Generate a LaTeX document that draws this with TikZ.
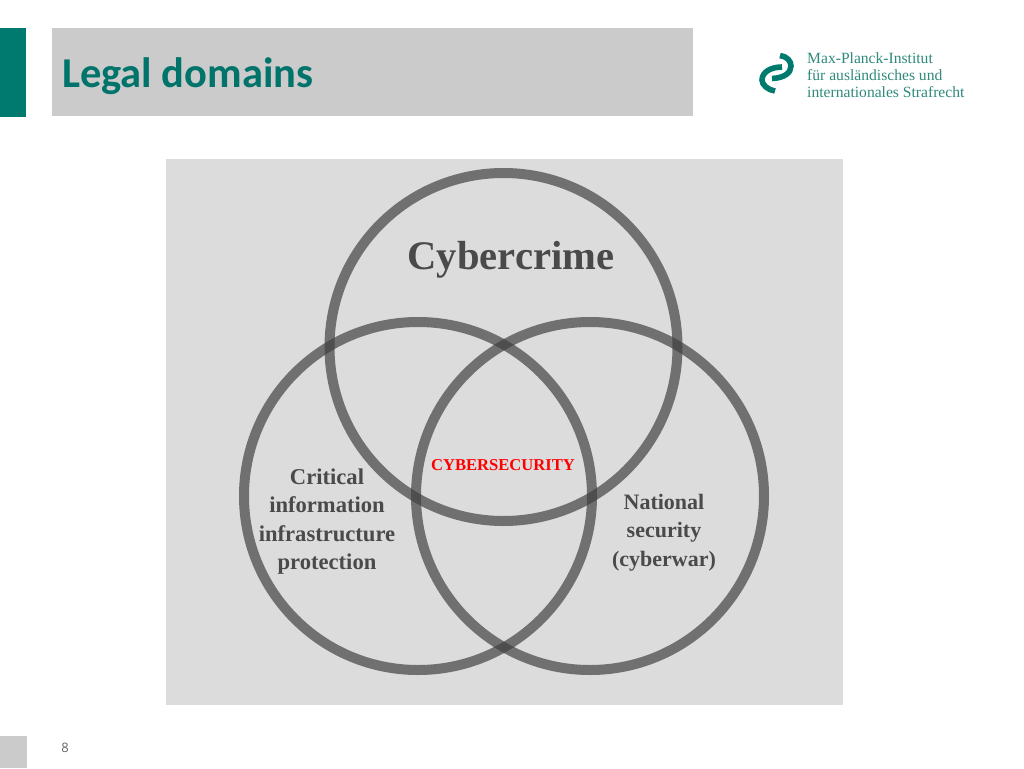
\documentclass[tikz,border=0pt]{standalone}
\usepackage{fontspec}
\setmainfont{Liberation Serif}
\newfontfamily\carlito{Carlito}
\newfontfamily\pagefont{Open Sans}
\definecolor{teal1}{HTML}{007A6E}
\definecolor{titletx}{HTML}{00736A}
\definecolor{hdr}{HTML}{CBCBCB}
\definecolor{panel}{HTML}{DCDCDC}
\definecolor{ring}{HTML}{3E3E3E}
\definecolor{lab}{HTML}{4A4A4A}
\definecolor{logotx}{HTML}{2F8A7C}
\tikzset{
  ringc/.style={draw=ring,draw opacity=0.68,line width=10pt,fill=none,circle,minimum size=348pt,inner sep=0pt},
  lbl/.style={text=lab,align=center,inner sep=0pt},
  logol/.style={text=logotx,anchor=west,inner sep=0pt,font=\fontsize{15.6pt}{17pt}\selectfont},
  logoarc/.style={teal1,line width=5.6pt}
}
\begin{document}
\begin{tikzpicture}[x=1pt,y=-1pt]
\useasboundingbox (0,0) rectangle (1024,768);
\fill[white] (0,0) rectangle (1024,768);
\fill[teal1] (0,28) rectangle (26,117);
\fill[hdr] (52,28) rectangle (693,116);
\node[anchor=west,inner sep=0pt,text=titletx] (title) at (62,76) {\carlito\bfseries\fontsize{42.5pt}{46pt}\selectfont Legal domains};
% logo
\draw[logoarc] (780,55.5) .. controls (787,56.5) and (791,61) .. (791,66) .. controls (791,73) and (784,78) .. (772,78.5);
\draw[logoarc] (782,67) .. controls (771,67) and (762,72) .. (762,80) .. controls (762,85) and (768,90) .. (775,91);
\node[logol] (l1) at (807,58) {Max-Planck-Institut};
\node[logol] (l2) at (807,75) {für ausländisches und};
\node[logol] (l3) at (807,92) {internationales Strafrecht};
% panel
\fill[panel] (166,159) rectangle (843,705);
\node[ringc] (top) at (503.5,347) {};
\node[ringc] (left) at (418,496) {};
\node[ringc] (right) at (590,496) {};
\node[lbl,font=\bfseries\fontsize{40.6pt}{44pt}\selectfont] (cc) at (511,260) {Cybercrime};
\node[lbl,text=red,font=\bfseries\fontsize{16.6pt}{18pt}\selectfont] (cs) at (503,465) {CYBERSECURITY};
\node[lbl,font=\bfseries\fontsize{22.6pt}{28.3pt}\selectfont] (ci) at (327,521.5) {Critical\\information\\infrastructure\\protection};
\node[lbl,font=\bfseries\fontsize{22pt}{28.3pt}\selectfont] (ns) at (664,532.5) {National\\security\\(cyberwar)};
% footer
\fill[hdr] (0,736) rectangle (27,768);
\node[inner sep=0pt,text=black!60] (pg) at (65,748) {\pagefont\fontsize{13pt}{15pt}\selectfont 8};
\end{tikzpicture}
\end{document}
